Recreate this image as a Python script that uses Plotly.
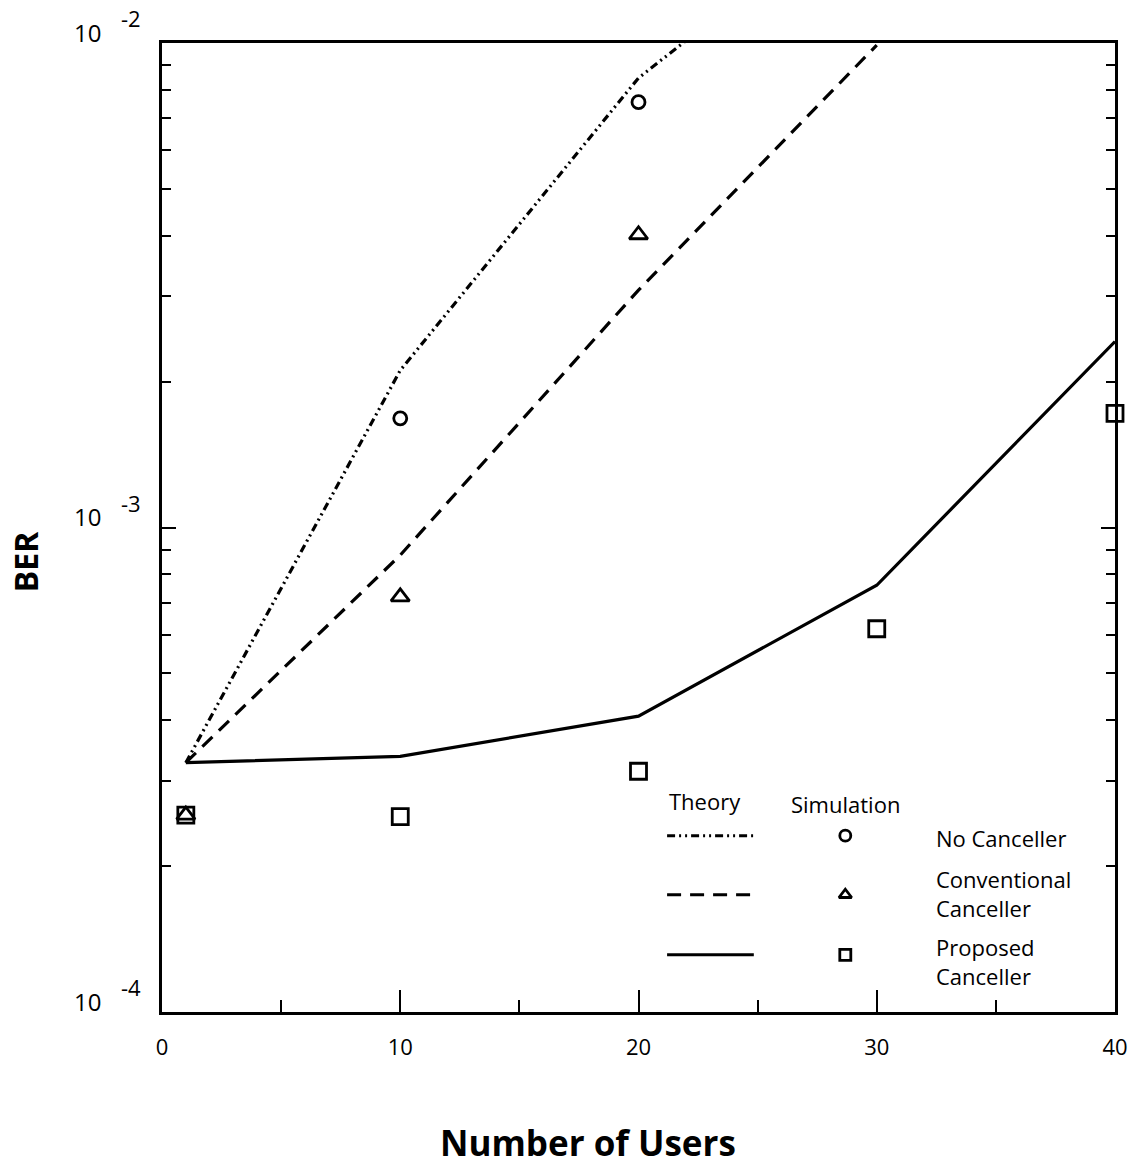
import plotly.graph_objects as go

# ---- data ----
users_theory = [1, 10, 20, 30, 40]
ber_no_canceller_theory = [3.27e-4, 2.11e-3, 8.47e-3, 2.06e-2, None]
ber_conventional_theory = [3.27e-4, 8.77e-4, 3.09e-3, 9.9e-3, None]
ber_proposed_theory = [3.27e-4, 3.37e-4, 4.08e-4, 7.60e-4, 2.42e-3]

users_sim_no = [10, 20]
ber_no_canceller_sim = [1.68e-3, 7.55e-3]
users_sim_conv = [1, 10, 20]
ber_conventional_sim = [2.55e-4, 7.19e-4, 4.02e-3]
users_sim_prop = [1, 10, 20, 30, 40]
ber_proposed_sim = [2.55e-4, 2.53e-4, 3.14e-4, 6.18e-4, 1.72e-3]

y_tick_exponents = [-4, -3, -2]
y_tick_base = "10"
y_tick_exp_text = ["-4", "-3", "-2"]
y_tickvals = [10.0 ** e for e in y_tick_exponents]
y_minor = [m * 10 ** e for e in (-4, -3) for m in range(2, 10)]
x_tickvals = [0, 10, 20, 30, 40]
x_minor = [5, 15, 25, 35]

legend_labels = ["No Canceller", "Conventional<br>Canceller", "Proposed<br>Canceller"]
legend_dashes = ["8px,4px,2px,4px,2px,4px", "14px,9px", "solid"]
legend_symbols = ["circle-open", "triangle-up-open", "square-open"]
legend_rows = [0.182, 0.121, 0.059]        # legend sample rows (plot-area fraction)
legend_label_rows = [0.180, 0.122, 0.052]  # label rows (plot-area fraction)

FONT = "Open Sans"
fig = go.Figure()

# theory lines
for ys, dash in zip([ber_no_canceller_theory, ber_conventional_theory, ber_proposed_theory], legend_dashes):
    fig.add_trace(go.Scatter(x=users_theory, y=ys, mode="lines",
                             line=dict(color="black", width=3.2, dash=dash),
                             connectgaps=False, showlegend=False, hoverinfo="skip"))

# simulation markers
for xs, ys, sym, sz in [(users_sim_no, ber_no_canceller_sim, "circle-open", 13),
                        (users_sim_conv, ber_conventional_sim, "triangle-up-open", 16),
                        (users_sim_prop, ber_proposed_sim, "square-open", 16)]:
    fig.add_trace(go.Scatter(x=xs, y=ys, mode="markers", cliponaxis=False,
                             marker=dict(symbol=sym, size=sz, color="black",
                                         line=dict(color="black", width=2.8)),
                             showlegend=False, hoverinfo="skip"))

# custom legend on overlay axes
legend_line_x = [0.530, 0.621]
legend_marker_x = 0.717
for row, dash, sym in zip(legend_rows, legend_dashes, legend_symbols):
    fig.add_trace(go.Scatter(x=legend_line_x, y=[row, row], mode="lines", xaxis="x2", yaxis="y2",
                             line=dict(color="black", width=3, dash=dash),
                             showlegend=False, hoverinfo="skip"))
    fig.add_trace(go.Scatter(x=[legend_marker_x], y=[row], mode="markers", xaxis="x2", yaxis="y2",
                             marker=dict(symbol=sym, size=11, color="black",
                                         line=dict(color="black", width=2.8)),
                             showlegend=False, hoverinfo="skip"))

for row, label in zip(legend_label_rows, legend_labels):
    fig.add_annotation(x=0.810, y=row, xref="x2", yref="y2", text=label, showarrow=False,
                       xanchor="left", yanchor="middle", align="left",
                       font=dict(family=FONT, size=22, color="black"))
fig.add_annotation(x=0.570, y=0.218, xref="x2", yref="y2", text="Theory", showarrow=False,
                   font=dict(family=FONT, size=22, color="black"))
fig.add_annotation(x=0.717, y=0.215, xref="x2", yref="y2", text="Simulation", showarrow=False,
                   font=dict(family=FONT, size=22, color="black"))

# y tick labels: "10" with a detached raised exponent, sitting just above the tick
for e, exp_txt in zip(y_tick_exponents, y_tick_exp_text):
    fig.add_annotation(x=0, y=e, xref="paper", yref="y", text=y_tick_base, showarrow=False,
                       xanchor="right", yanchor="middle", xshift=-59, yshift=11,
                       font=dict(family=FONT, size=24, color="black"))
    fig.add_annotation(x=0, y=e, xref="paper", yref="y", text=exp_txt, showarrow=False,
                       xanchor="left", yanchor="middle", xshift=-43, yshift=25,
                       font=dict(family=FONT, size=22, color="black"))

# axis titles
fig.add_annotation(x=0.4468, y=-0.135, xref="paper", yref="paper", text="<b>Number of Users</b>",
                   showarrow=False, xanchor="center", yanchor="middle",
                   font=dict(family=FONT, size=35, color="black"))
fig.add_annotation(x=-0.143, y=0.465, xref="paper", yref="paper", text="<b>BER</b>", textangle=-90,
                   showarrow=False, xanchor="center", yanchor="middle",
                   font=dict(family=FONT, size=32, color="black"))

fig.update_layout(
    width=1140, height=1166,
    margin=dict(l=162, r=20, t=43, b=154),
    paper_bgcolor="white", plot_bgcolor="white",
    font=dict(family=FONT, color="black"),
    xaxis=dict(range=[0, 40], tickvals=x_tickvals, ticks="inside", ticklen=22, tickwidth=2,
               tickcolor="black", showline=True, linecolor="black", linewidth=3, mirror=True,
               showgrid=False, zeroline=False, tickfont=dict(size=22, family=FONT),
               ticklabelstandoff=14,
               minor=dict(tickvals=x_minor, ticks="inside", ticklen=12, tickwidth=2, tickcolor="black",
                          showgrid=False)),
    yaxis=dict(type="log", range=[-4, -2], tickvals=y_tickvals, showticklabels=False,
               ticks="inside", ticklen=14, tickwidth=2, tickcolor="black",
               showline=True, linecolor="black", linewidth=3, mirror="ticks",
               showgrid=False, zeroline=False,
               minor=dict(tickvals=y_minor, ticks="inside", ticklen=9, tickwidth=2, tickcolor="black",
                          showgrid=False)),
    xaxis2=dict(domain=[0, 1], range=[0, 1], overlaying="x", visible=False, fixedrange=True),
    yaxis2=dict(domain=[0, 1], range=[0, 1], overlaying="y", visible=False, fixedrange=True),
)

fig.write_html("out.html")
